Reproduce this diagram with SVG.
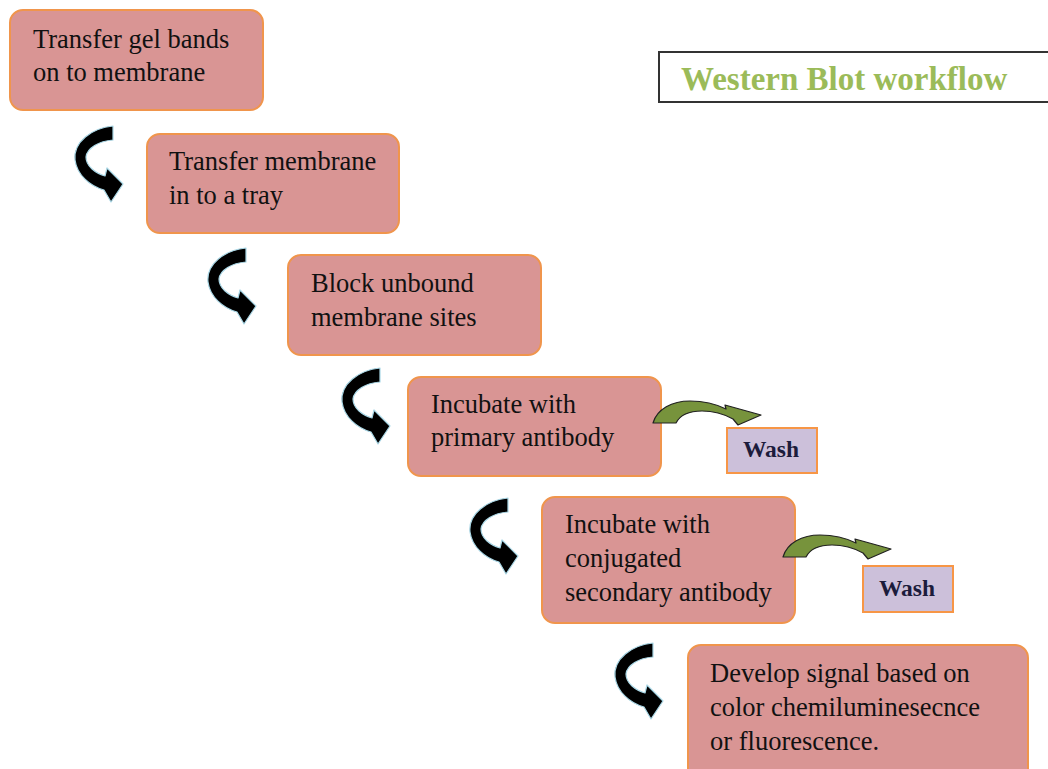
<svg xmlns="http://www.w3.org/2000/svg" xmlns:xlink="http://www.w3.org/1999/xlink" width="1048" height="769" viewBox="0 0 1048 769">
<style>
.box{fill:#d99594;stroke:#f0954c;stroke-width:2}
.wash{fill:#ccc0da;stroke:#f79646;stroke-width:2}
.t{font-family:'Liberation Serif','DejaVu Serif',serif;font-weight:normal;font-size:26.5px;fill:#111}
.w{font-family:'Liberation Serif','DejaVu Serif',serif;font-size:23.5px;font-weight:bold;fill:#1c1c3c;text-anchor:middle}
.title{font-family:'Liberation Serif','DejaVu Serif',serif;font-size:33px;font-weight:bold;fill:#9bbb59}
.ba{fill:#000;stroke:#a9d7e6;stroke-width:1.2;stroke-linejoin:round}
.ga{fill:#77933c;stroke:#222;stroke-width:1.2;stroke-linejoin:round}
</style>
<defs>
<path id="curl" d="M113,126 C92,128 73,142 75,160 C77,175 90,186 104,190 L111,202 L123,184 L107,168 L105,176 C95,173 86,166 86,157 C87,148 99,141 113,140 Z"/>
<path id="garc" d="M653,423 C657,409 672,401 690,401 C704,401 716,404 726,409 L725,405 L761,415 L738,425 L733,419 C724,414 713,411 702,411 C690,411 680,415 676,423 Z"/>
</defs>
<rect width="1048" height="769" fill="#fff"/>
<g id="title">
<rect x="659" y="52" width="400" height="50" fill="#fff" stroke="#333" stroke-width="2"/>
<text class="title" x="681" y="90">Western Blot workflow</text>
</g>
<g id="step1">
<rect class="box" x="10" y="10" width="253" height="100" rx="13"/>
<text class="t" x="33" y="48">Transfer gel bands</text>
<text class="t" x="33" y="81">on to membrane</text>
</g>
<g id="step2">
<rect class="box" x="147" y="134" width="252" height="99" rx="13"/>
<text class="t" x="169" y="170">Transfer membrane</text>
<text class="t" x="169" y="204">in to a tray</text>
</g>
<g id="step3">
<rect class="box" x="288" y="255" width="253" height="100" rx="13"/>
<text class="t" x="311" y="292">Block unbound</text>
<text class="t" x="311" y="326">membrane sites</text>
</g>
<g id="step4">
<rect class="box" x="408" y="377" width="253" height="99" rx="13"/>
<text class="t" x="431" y="413">Incubate with</text>
<text class="t" x="431" y="446">primary antibody</text>
</g>
<g id="step5">
<rect class="box" x="542" y="497" width="253" height="126" rx="13"/>
<text class="t" x="565" y="533">Incubate with</text>
<text class="t" x="565" y="567">conjugated</text>
<text class="t" x="565" y="601">secondary antibody</text>
</g>
<g id="step6">
<rect class="box" x="688" y="645" width="340" height="140" rx="13"/>
<text class="t" x="710" y="682">Develop signal based on</text>
<text class="t" x="710" y="716">color chemiluminesecnce</text>
<text class="t" x="710" y="750">or fluorescence.</text>
</g>
<g id="wash1">
<rect class="wash" x="727" y="428" width="90" height="45"/>
<text class="w" x="771" y="457">Wash</text>
</g>
<g id="wash2">
<rect class="wash" x="863" y="566" width="90" height="46"/>
<text class="w" x="907" y="596">Wash</text>
</g>
<g id="connectors">
<use xlink:href="#curl" class="ba"/>
<use xlink:href="#curl" class="ba" transform="translate(133,122)"/>
<use xlink:href="#curl" class="ba" transform="translate(267,242)"/>
<use xlink:href="#curl" class="ba" transform="translate(395,372)"/>
<use xlink:href="#curl" class="ba" transform="translate(540,517)"/>
<use xlink:href="#garc" class="ga"/>
<use xlink:href="#garc" class="ga" transform="translate(130,134)"/>
</g>
</svg>
